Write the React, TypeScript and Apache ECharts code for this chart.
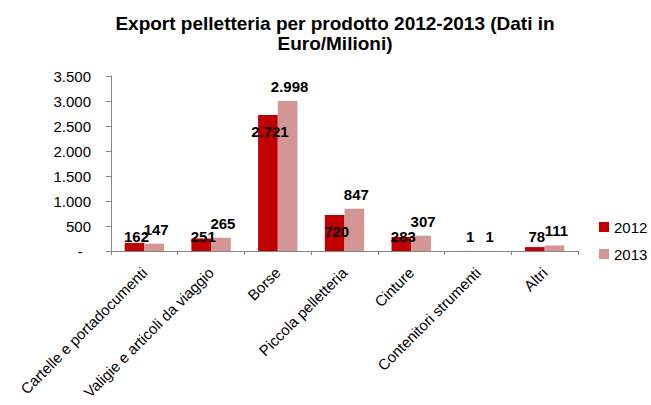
import React, { useEffect, useRef } from "react";
import * as echarts from "echarts";

const categories = [
  "Cartelle e portadocumenti",
  "Valigie e articoli da viaggio",
  "Borse",
  "Piccola pelletteria",
  "Cinture",
  "Contenitori strumenti",
  "Altri",
];
const values2012 = [162, 251, 2721, 720, 283, 1, 78];
const values2013 = [147, 265, 2998, 847, 307, 1, 111];
const yTicks = [0, 500, 1000, 1500, 2000, 2500, 3000, 3500];

const FONT = "'Liberation Sans', Arial, sans-serif";

const fmt = (v: number) => {
  if (v === 0) return "-  ";
  return String(v).replace(/\B(?=(\d{3})+(?!\d))/g, ".");
};

export default function App() {
  const ref = useRef<HTMLDivElement>(null);
  useEffect(() => {
    if (!ref.current) return;
    const chart = echarts.init(ref.current, null, { renderer: "svg" });
    const labelBase = {
      show: true,
      fontFamily: FONT,
      fontSize: 15,
      fontWeight: "bold" as const,
      color: "#000",
      formatter: (p: any) => fmt(p.value),
      offset: [2, 0],
    };
    chart.setOption({
      animation: false,
      backgroundColor: "#fff",
      textStyle: { fontFamily: FONT },
      title: {
        text: "Export pelletteria per prodotto 2012-2013 (Dati in\nEuro/Milioni)",
        left: 335,
        top: 13,
        padding: 0,
        textAlign: "center",
        textStyle: {
          fontFamily: FONT,
          fontSize: 19,
          fontWeight: "bold",
          lineHeight: 20,
          color: "#000",
        },
      },
      legend: {
        orient: "vertical",
        left: 599,
        top: 218,
        padding: 0,
        itemWidth: 10,
        itemHeight: 10,
        itemGap: 9,
        icon: "rect",
        textStyle: { fontFamily: FONT, fontSize: 15, color: "#000", lineHeight: 18 },
        data: ["2012", "2013"],
      },
      grid: {
        left: 111,
        right: 73,
        top: 76,
        bottom: 154,
        containLabel: false,
        outerBoundsMode: "none",
      },
      xAxis: {
        type: "category",
        data: categories,
        axisLine: { lineStyle: { color: "#868686", width: 1 } },
        axisTick: { show: true, length: 4, lineStyle: { color: "#868686" } },
        axisLabel: {
          rotate: 45,
          interval: 0,
          fontFamily: FONT,
          fontSize: 15,
          color: "#000",
          margin: 19,
        },
      },
      yAxis: {
        type: "value",
        min: yTicks[0],
        max: yTicks[yTicks.length - 1],
        interval: 500,
        splitLine: { show: false },
        axisLine: { show: true, lineStyle: { color: "#868686", width: 1 } },
        axisTick: { show: true, length: 5, lineStyle: { color: "#868686" } },
        axisLabel: {
          fontFamily: FONT,
          fontSize: 15,
          color: "#000",
          margin: 20,
          formatter: (v: number) => fmt(v),
        },
      },
      series: [
        {
          name: "2012",
          type: "bar",
          barGap: "0%",
          barCategoryGap: "41%",
          itemStyle: { color: "#C00000" },
          label: { ...labelBase, position: "insideBottom", distance: 7 },
          data: values2012.map((v) =>
            v > 500
              ? { value: v, label: { position: "insideTop", distance: 9 } }
              : { value: v }
          ),
        },
        {
          name: "2013",
          type: "bar",
          barGap: "0%",
          barCategoryGap: "41%",
          itemStyle: { color: "#D49595" },
          label: { ...labelBase, position: "top", distance: 7 },
          data: values2013,
        },
      ],
    });
    return () => chart.dispose();
  }, []);
  return <div ref={ref} style={{ width: 651, height: 405, position: "absolute", left: 0, top: 0 }} />;
}
